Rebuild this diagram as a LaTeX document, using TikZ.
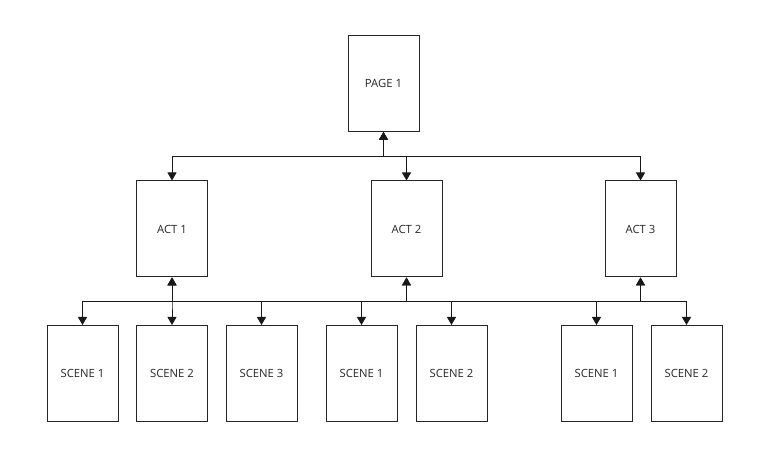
\documentclass[tikz,border=0pt]{standalone}
\usepackage{fontspec}
\setmainfont{Open Sans}
\usetikzlibrary{arrows.meta,calc}
\tikzset{
  box/.style={draw=black!85, line width=1bp, minimum width=71bp, minimum height=96bp, inner sep=0pt, font=\fontsize{11.3bp}{13bp}\selectfont, text=black!85},
  link/.style={draw=black!90, line width=1bp, {Triangle[width=9bp,length=8bp]}-{Triangle[width=9bp,length=8bp]}},
  bus/.style={draw=black!90, line width=1bp}
}
\begin{document}
\begin{tikzpicture}[x=1bp,y=-1bp]
\useasboundingbox (0,0) rectangle (769,457);
\node[box] (page) at (383.5,83.5) {PAGE 1};
\node[box] (act1) at (172,229) {ACT 1};
\node[box] (act2) at (406.5,229) {ACT 2};
\node[box] (act3) at (640.5,229) {ACT 3};
\node[box] (s11) at (82.5,373.5) {SCENE 1};
\node[box] (s12) at (172,373.5) {SCENE 2};
\node[box] (s13) at (261.5,373.5) {SCENE 3};
\node[box] (s21) at (361.5,373.5) {SCENE 1};
\node[box] (s22) at (451.5,373.5) {SCENE 2};
\node[box] (s31) at (596.5,373.5) {SCENE 1};
\node[box] (s32) at (686.5,373.5) {SCENE 2};
\coordinate (busY) at ($(act1.south)+(0,24.5)$);
\draw[bus] (s13.north |- busY) -- (s21.north |- busY);
\draw[bus] (s22.north |- busY) -- (s31.north |- busY);
\foreach \c in {act1,act2,act3}
  \draw[link] (page.south) -- ++(0,25) -| (\c.north);
\foreach \c in {s11,s12,s13}
  \draw[link] (act1.south) -- ++(0,24.5) -| (\c.north);
\foreach \c in {s21,s22}
  \draw[link] (act2.south) -- ++(0,24.5) -| (\c.north);
\foreach \c in {s31,s32}
  \draw[link] (act3.south) -- ++(0,24.5) -| (\c.north);
\end{tikzpicture}
\end{document}
